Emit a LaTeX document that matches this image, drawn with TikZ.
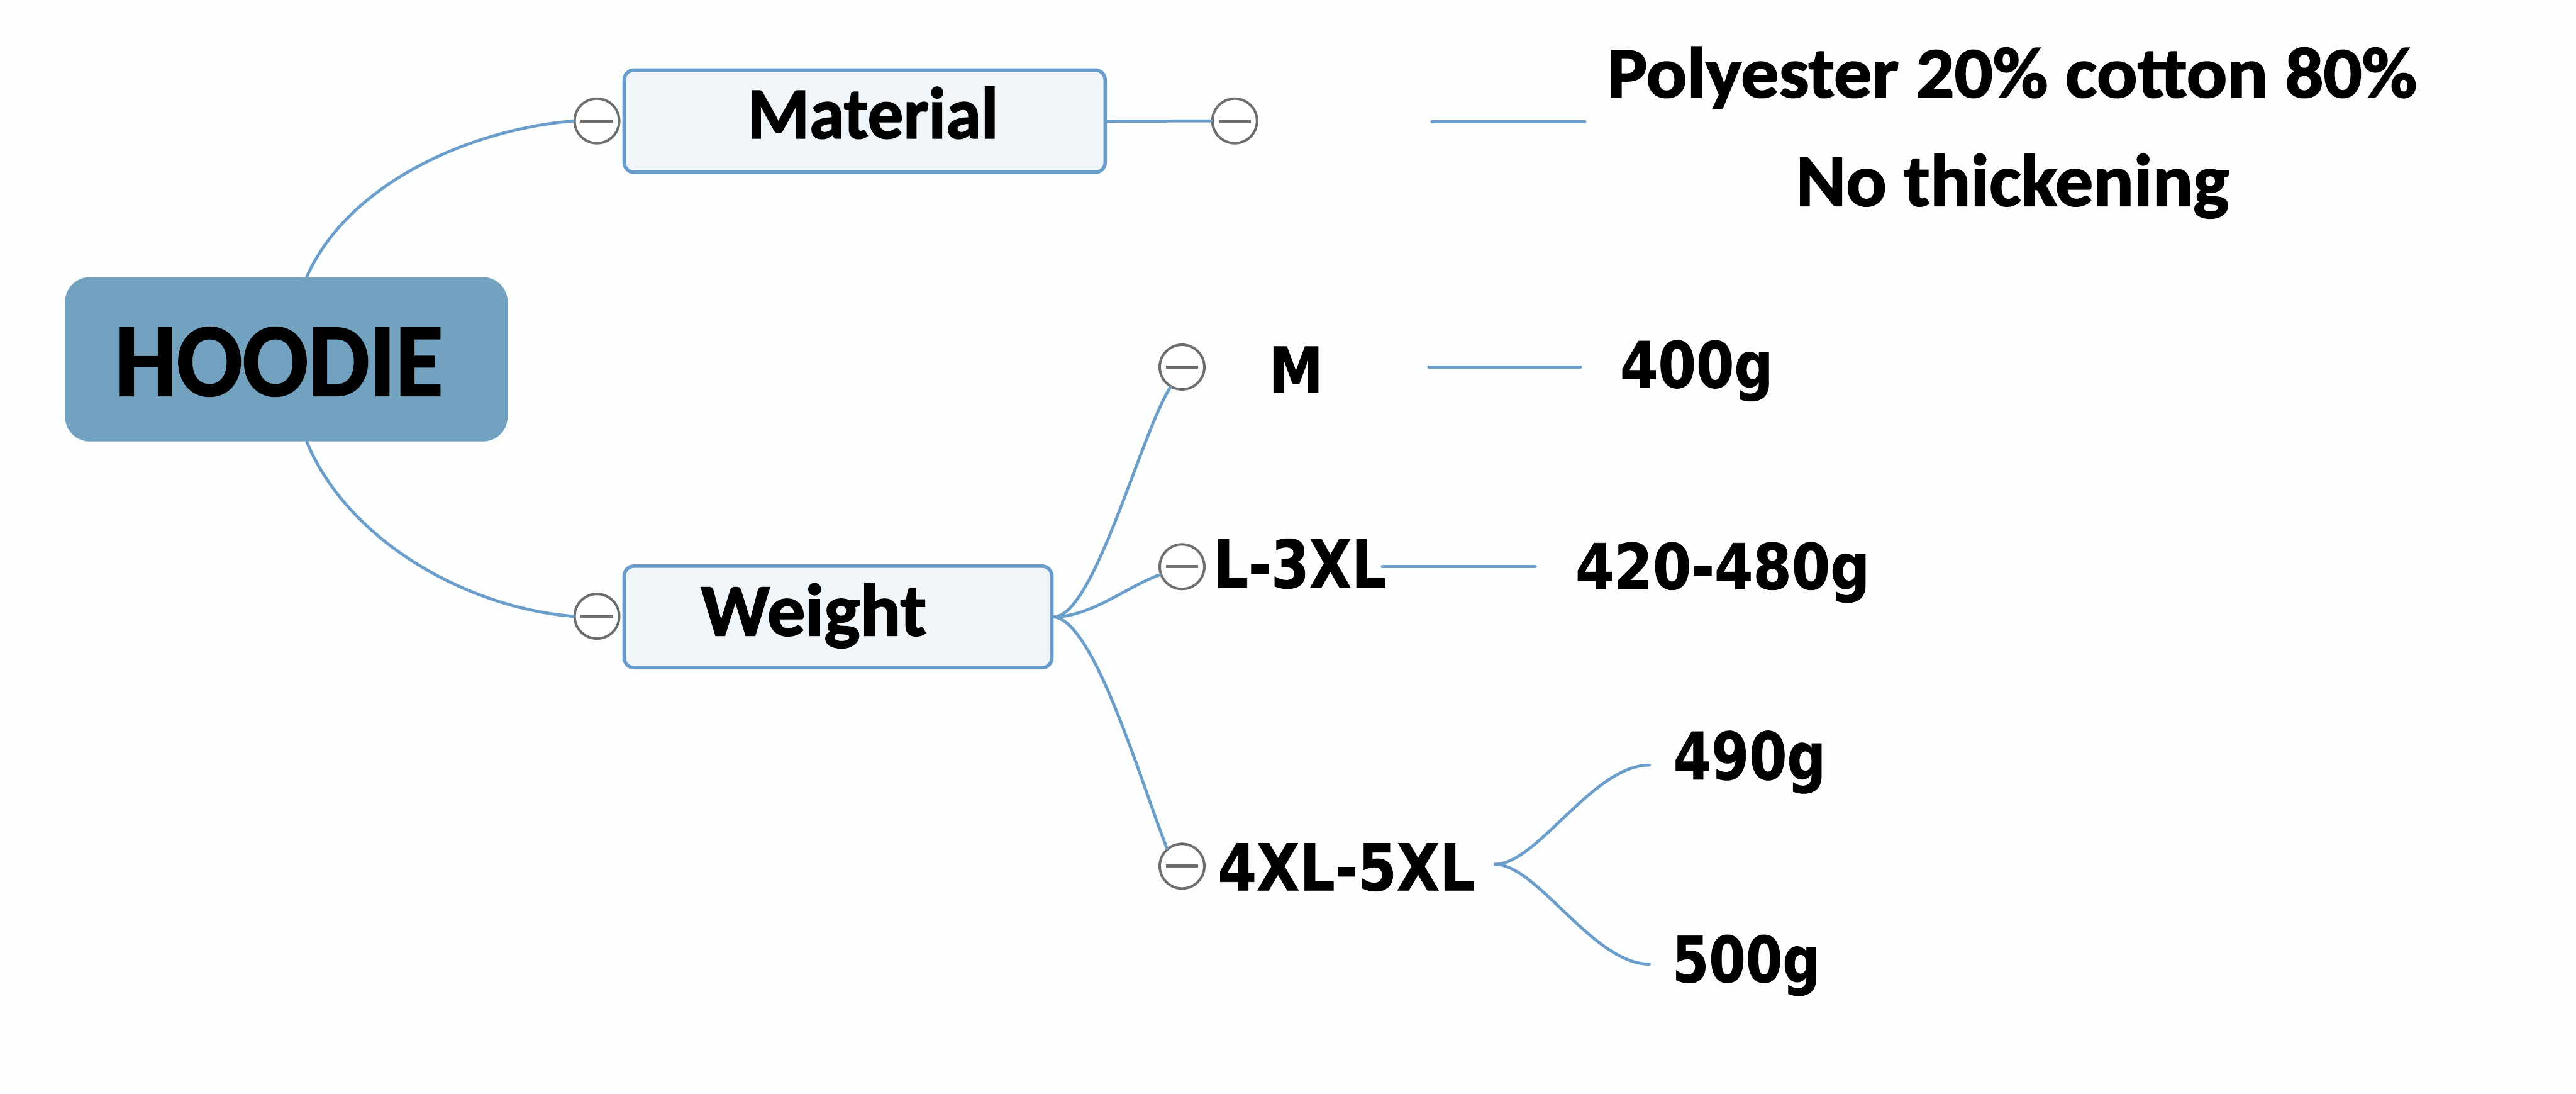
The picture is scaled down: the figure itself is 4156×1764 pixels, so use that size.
\documentclass[tikz,border=0pt]{standalone}
\usepackage{fontspec}
\usepackage{graphicx}
\usetikzlibrary{calc}
\newfontfamily\carl{Carlito}[BoldFeatures={FakeBold=1.6}]
\newfontfamily\dvs{DejaVu Sans}[BoldFeatures={FakeBold=0.8}]
\definecolor{bgc}{RGB}{253,254,254}
\definecolor{hoodfill}{RGB}{115,162,192}
\definecolor{boxfill}{RGB}{239,245,249}
\definecolor{boxline}{RGB}{104,156,204}
\definecolor{connc}{RGB}{108,158,204}
\definecolor{togc}{RGB}{110,110,110}
\newlength\fitlen
\newcommand\fitw[2]{\sbox0{#2}\fitlen=\wd0\pgfmathsetmacro\fitf{#1/\fitlen}\scalebox{\fitf}[1]{\usebox0}}
\newcommand\cfont[1]{\carl\bfseries\fontsize{#1}{#1}\selectfont}
\newcommand\dfont[1]{\dvs\bfseries\fontsize{#1}{#1}\selectfont}
\begin{document}
\begin{tikzpicture}[x=0.25pt,y=-0.25pt,
  conn/.style={draw=connc,line width=1.2pt,line cap=round},
  tog/.style={circle,draw=togc,line width=1pt,fill=white,inner sep=0pt,minimum size=18pt,
    path picture={\draw[togc,line width=1.3pt] ([xshift=-6.5pt]path picture bounding box.center) -- ([xshift=6.5pt]path picture bounding box.center);}},
  subbox/.style={draw=boxline,line width=1.4pt,fill=boxfill,rounded corners=4pt,inner sep=0pt},
  txt/.style={inner sep=0pt,anchor=base west}]
\useasboundingbox (0,0) rectangle (4156,1764);
\fill[bgc] (0,0) rectangle (4156,1764);

% central node
\node[fill=hoodfill,rounded corners=10pt,minimum width=178.5pt,minimum height=66.25pt,inner sep=0pt] (hoodie) at (462,579.5) {};
\node[txt] (hoodiet) at (185,638) {\cfont{42pt}\fitw{132.25}{HOODIE}};

% Material
\node[subbox,minimum width=194pt,minimum height=41.25pt] (material) at (1395,195.5) {};
\node[txt] (materialt) at (1205,223) {\cfont{29.5pt}\fitw{101.25}{Material}};
\node[tog] (cml) at (963,195) {};
\node[tog] (cmr) at (1992,195) {};

% Weight
\node[subbox,minimum width=172.5pt,minimum height=41pt] (weight) at (1352,995) {};
\node[txt] (weightt) at (1130,1025) {\cfont{29.9pt}\fitw{91}{Weight}};
\node[tog] (cwl) at (963,994) {};

% material details
\node[txt] (poly) at (2592,157) {\cfont{29.1pt}\fitw{326.75}{Polyester 20\% cotton 80\%}};
\node[txt] (thick) at (2897,332) {\cfont{29.9pt}\fitw{174.5}{No thickening}};

% sizes
\node[tog] (cM) at (1907,592) {};
\node[tog] (cL) at (1907,914) {};
\node[tog] (c4) at (1907,1397) {};
\node[txt] (M) at (2046,633) {\dfont{25.4pt}\fitw{22}{M}};
\node[txt] (L3) at (1957,948) {\dfont{26.7pt}\fitw{69.75}{L-3XL}};
\node[txt] (X45) at (1964,1436) {\dfont{26pt}\fitw{103.75}{4XL-5XL}};
\node[txt] (w400) at (2613,625) {\dfont{25.7pt}\fitw{61.75}{400g}};
\node[txt] (w420) at (2541,950) {\dfont{25.4pt}\fitw{118.75}{420-480g}};
\node[txt] (w490) at (2699,1257) {\dfont{26.4pt}\fitw{61.5}{490g}};
\node[txt] (w500) at (2697,1584) {\dfont{25.7pt}\fitw{59.75}{500g}};

% free line ends
\coordinate (pl1) at (2310,196);
\coordinate (pl2) at (2557,196);
\coordinate (ml1) at (2305,592);
\coordinate (ml2) at (2550,592);
\coordinate (ll1) at (2230,914);
\coordinate (ll2) at (2477,914);
\coordinate (b4) at (2412,1394);
\coordinate (e490) at (2661,1234);
\coordinate (e500) at (2661,1555);

% connectors
\draw[conn] ($(hoodie.north)+(33,0)$) .. controls (560,300) and (750,210) .. (cml.west);
\draw[conn] ($(hoodie.south)+(33,0)$) .. controls (560,870) and (750,980) .. (cwl.west);
\draw[conn] (material.east) -- (cmr.west);
\draw[conn] (pl1) -- (pl2);
\draw[conn] (weight.east) .. controls (1765,995) and (1840,700) .. (cM.240);
\draw[conn] (weight.east) .. controls (1760,995) and (1820,945) .. (cL.200);
\draw[conn] (weight.east) .. controls (1765,1000) and (1840,1260) .. (c4.130);
\draw[conn] (ml1) -- (ml2);
\draw[conn] (ll1) -- (ll2);
\draw[conn] (b4) .. controls (2480,1394) and (2570,1234) .. (e490);
\draw[conn] (b4) .. controls (2480,1394) and (2570,1555) .. (e500);
\end{tikzpicture}
\end{document}
